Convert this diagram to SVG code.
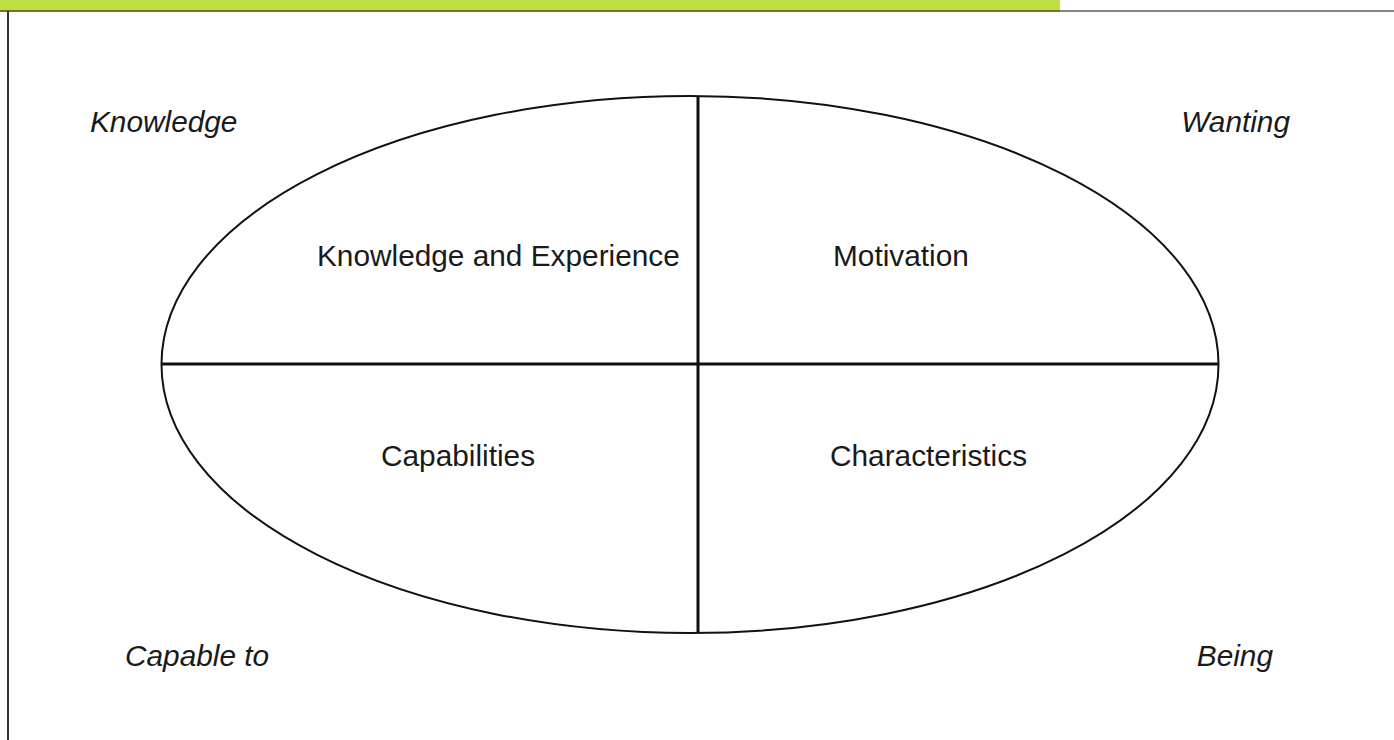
<svg xmlns="http://www.w3.org/2000/svg" width="1394" height="740" viewBox="0 0 1394 740">
<style>
.lbl{font-family:"Liberation Sans",Arial,sans-serif;font-size:29.8px;fill:#1a1a1a}
.it{font-style:italic}
.ln{stroke:#111;stroke-width:3;fill:none}
</style>
<rect width="1394" height="740" fill="#fff"/>
<g id="frame">
<rect x="0" y="0" width="1060" height="10" fill="#bedf42"/>
<rect x="0" y="10" width="1060" height="2" fill="#6b7a25"/>
<rect x="1060" y="10" width="334" height="2" fill="#858585"/>
<rect x="7" y="11" width="2" height="729" fill="#333"/>
</g>
<g id="ellipse">
<ellipse cx="690" cy="364.5" rx="528.5" ry="268.5" fill="none" stroke="#111" stroke-width="2"/>
</g>
<g id="connectors">
<line class="ln" x1="161" y1="364" x2="1219" y2="364"/>
<line class="ln" x1="698" y1="96" x2="698" y2="633"/>
</g>
<g id="q1"><text class="lbl" x="317" y="266">Knowledge and Experience</text></g>
<g id="q2"><text class="lbl" x="833" y="266">Motivation</text></g>
<g id="q3"><text class="lbl" x="381" y="466">Capabilities</text></g>
<g id="q4"><text class="lbl" x="830" y="466">Characteristics</text></g>
<g id="c1"><text class="lbl it" x="90" y="132">Knowledge</text></g>
<g id="c2"><text class="lbl it" x="1290" y="132" text-anchor="end">Wanting</text></g>
<g id="c3"><text class="lbl it" x="125" y="666">Capable to</text></g>
<g id="c4"><text class="lbl it" x="1273" y="666" text-anchor="end">Being</text></g>
</svg>
